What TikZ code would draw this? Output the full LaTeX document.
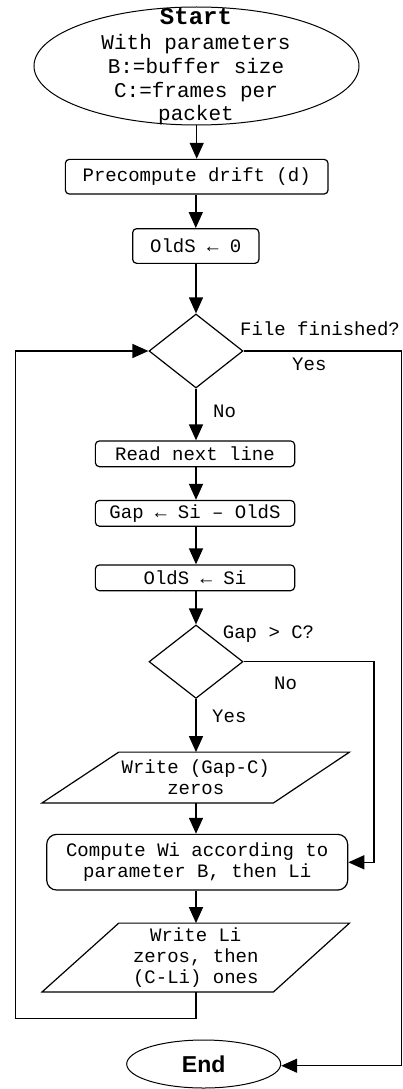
\documentclass[tikz,border=0pt]{standalone}
\usepackage{fontspec}
\setmainfont{Liberation Mono}
\newfontfamily\sansfam{Liberation Sans}
\usetikzlibrary{shapes.geometric,arrows.meta,calc}
\begin{document}
\begin{tikzpicture}[x=1pt,y=-1pt,
  txt/.style={font=\fontsize{19}{21}\selectfont, align=center},
  proc/.style={draw, rounded corners=4pt, inner sep=0pt, line width=1.2pt, txt},
  dec/.style={draw, diamond, inner sep=0pt, line width=1.2pt, minimum width=94pt, minimum height=74pt},
  io/.style={inner sep=0pt, txt},
  flow/.style={line width=1.5pt, -{Triangle[length=16pt,width=14pt]}},
  plain/.style={line width=1.5pt},
  lbl/.style={inner sep=0pt, anchor=base west, font=\fontsize{19}{21}\selectfont},
  stl/.style={inner sep=0pt, anchor=base, font=\fontsize{21}{23}\selectfont}]
\useasboundingbox (0,0) rectangle (402,1089);
% start
\node (start) [draw, ellipse, line width=1pt, inner sep=0pt, minimum width=325pt, minimum height=118pt] at (196.5,66) {};
\node (s1) [stl, font=\fontsize{24}{26}\selectfont\bfseries] at (196,25) {Start};
\node (s2) [stl] at (196,50) {With parameters};
\node (s3) [stl] at (196,73.5) {B:=buffer size};
\node (s4) [stl] at (196,97.2) {C:=frames per};
\node (s5) [stl] at (196,120.7) {packet};
% boxes
\node (pre) [proc, minimum width=262.7pt, minimum height=34.7pt] at (196.7,176.7) {Precompute drift (d)};
\node (old0) [proc, minimum width=126.3pt, minimum height=34.7pt] at (195.8,246) {OldS ← 0};
\node (d1) [dec] at (196,351) {};
\node (read) [proc, minimum width=199.3pt, minimum height=25.7pt] at (195,453.8) {Read next line};
\node (gap) [proc, minimum width=199.3pt, minimum height=25.7pt] at (195,513.3) {Gap ← Si – OldS};
\node (olds) [proc, minimum width=199.3pt, minimum height=25.7pt] at (195,577.8) {OldS ← Si};
\node (d2) [dec, minimum height=73.4pt] at (196,661.7) {};
\node (wg) [io, minimum width=307pt, minimum height=50.4pt] at (195.8,777.5) {Write (Gap-C)\\zeros};
\draw[line width=1.2pt] ($(wg.north west)+(76.7,0)$) -- (wg.north east) -- ($(wg.south east)-(76,0)$) -- (wg.south west) -- cycle;
\node (comp) [proc, rounded corners=10pt, minimum width=301pt, minimum height=55.7pt] at (197.2,862.2) {Compute Wi according to\\parameter B, then Li};
\node (wl) [io, minimum width=307pt, minimum height=68.4pt] at (195.8,957.5) {Write Li\\zeros, then\\(C-Li) ones};
\draw[line width=1.2pt] ($(wl.north west)+(76.7,0)$) -- (wl.north east) -- ($(wl.south east)-(76,0)$) -- (wl.south west) -- cycle;
\node (end) [draw, ellipse, line width=1pt, inner sep=0pt, minimum width=154pt, minimum height=48pt, font=\fontsize{23}{25}\sansfam\bfseries] at (203.7,1064) {End};
% labels
\node (l1) [lbl] at (240,335) {File finished?};
\node (l2) [lbl] at (292,370.7) {Yes};
\node (l3) [lbl] at (213,417.3) {No};
\node (l4) [lbl] at (222.7,638.3) {Gap > C?};
\node (l5) [lbl] at (274,689.3) {No};
\node (l6) [lbl] at (212,722.7) {Yes};
% helper coordinates
\coordinate (lb) at (15.3,1018.3);
\coordinate (rx) at (401.3,1065.7);
\coordinate (c2) at (374,862.3);
% connectors
\draw[flow] (start.south -| pre.north) -- (pre.north);
\draw[flow] (pre.south -| old0.north) -- (old0.north);
\draw[flow] (old0.south -| d1.north) -- (d1.north);
\draw[flow] (d1.south) -- (d1.south |- read.north);
\draw[flow] (read.south -| d1.south) -- (d1.south |- gap.north);
\draw[flow] (gap.south -| d1.south) -- (d1.south |- olds.north);
\draw[flow] (olds.south -| d2.north) -- (d2.north);
\draw[flow] (d2.south) -- (d2.south |- wg.north);
\draw[flow] (wg.south -| d2.south) -- (d2.south |- comp.north);
\draw[flow] (comp.south -| d2.south) -- (d2.south |- wl.north);
\draw[flow] (wl.south -| d2.south) |- (lb) |- (d1.west);
\draw[flow] (d1.east) -| (rx) -- (rx -| end.east);
\draw[flow] (d2.east) -| (c2) -- (c2 -| comp.east);
\end{tikzpicture}
\end{document}
